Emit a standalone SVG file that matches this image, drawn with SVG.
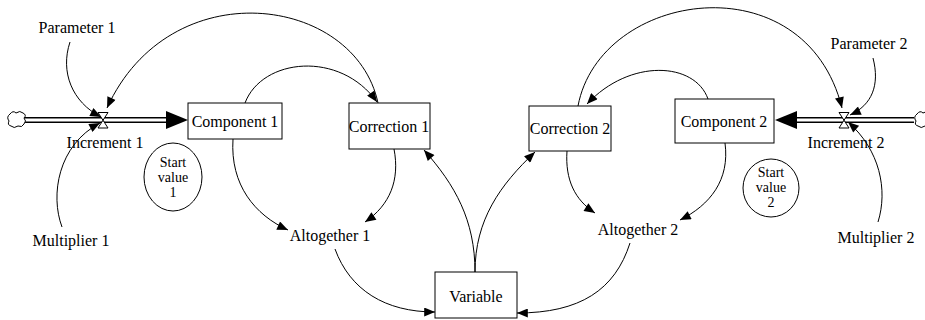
<svg xmlns="http://www.w3.org/2000/svg" width="925" height="320" viewBox="0 0 925 320">
<style>
text{font-family:"Liberation Serif","DejaVu Serif",serif;font-size:16px;fill:#000;text-anchor:middle;dominant-baseline:central}
text.sv{font-size:14px}
.box{fill:#fff;stroke:#000;stroke-width:1}
.link{fill:none;stroke:#000;stroke-width:1}
.pipeo{fill:none;stroke:#000;stroke-width:6}
.pipei{fill:none;stroke:#fff;stroke-width:3}
.valve{fill:#fff;stroke:#000;stroke-width:1}
.cloud{fill:#fff;stroke:#000;stroke-width:1}
</style>
<defs>
<marker id="ah" viewBox="0 0 12 10" refX="12" refY="5" markerWidth="13" markerHeight="9" orient="auto" markerUnits="userSpaceOnUse">
<path d="M0,0 L12,5 L0,10 Z" fill="#000"/>
</marker>
</defs>
<rect width="925" height="320" fill="#fff"/>

<g id="flows">
<path class="pipeo" d="M24 120 H168"/>
<path class="pipei" d="M22 120 H168"/>
<polygon points="166,111 188,120 166,129" fill="#000"/>
<path class="pipeo" d="M796 120 H914"/>
<path class="pipei" d="M796 120 H916"/>
<polygon points="797,111 775,120 797,129" fill="#000"/>
</g>

<g id="cloud1"><path class="cloud" d="M10 114 q3 -4 6 -1 q4 -3 7 0 q4 2 1 5 q3 3 0 6 q-2 4 -6 2 q-4 3 -7 0 q-4 -1 -2 -5 q-3 -4 1 -7 z"/></g>
<g id="cloud2"><path class="cloud" d="M917 114 q3 -4 6 -1 q4 -3 7 0 q4 2 1 5 q3 3 0 6 q-2 4 -6 2 q-4 3 -7 0 q-4 -1 -2 -5 q-3 -4 1 -7 z"/></g>

<g id="connectors">
<path class="link" marker-end="url(#ah)" d="M70 42 C60 72, 72 102, 101 117"/>
<path class="link" marker-end="url(#ah)" d="M62 227 C50 195, 58 145, 100 123"/>
<path class="link" marker-end="url(#ah)" d="M378 103 C355 -5, 170 -30, 107 108"/>
<path class="link" marker-end="url(#ah)" d="M245 103 C262 58, 340 50, 377 102"/>
<path class="link" marker-end="url(#ah)" d="M233 139 C230 185, 255 215, 288 230"/>
<path class="link" marker-end="url(#ah)" d="M394 149 C400 180, 390 205, 365 222"/>
<path class="link" marker-end="url(#ah)" d="M335 249 C350 290, 385 312, 435 312"/>
<path class="link" marker-end="url(#ah)" d="M475 272 C475 220, 455 185, 424 150"/>
<path class="link" marker-end="url(#ah)" d="M475 272 C475 220, 500 185, 535 152"/>
<path class="link" marker-end="url(#ah)" d="M567 151 C565 180, 575 200, 595 213"/>
<path class="link" marker-end="url(#ah)" d="M725 143 C730 180, 710 205, 680 220"/>
<path class="link" marker-end="url(#ah)" d="M630 243 C615 290, 580 313, 517 313"/>
<path class="link" marker-end="url(#ah)" d="M708 99 C695 62, 630 58, 587 104"/>
<path class="link" marker-end="url(#ah)" d="M578 106 C600 -10, 805 -40, 842 108"/>
<path class="link" marker-end="url(#ah)" d="M873 58 C880 85, 872 105, 850 115"/>
<path class="link" marker-end="url(#ah)" d="M878 222 C888 190, 880 150, 848 122"/>
</g>

<g id="increment1">
<path class="valve" d="M98 112.5 H108 L98 128 H108 Z"/>
<text x="105" y="142">Increment 1</text>
</g>
<g id="increment2">
<path class="valve" d="M839 112.5 H849 L839 128 H849 Z"/>
<text x="846" y="142">Increment 2</text>
</g>

<g id="parameter1"><text x="77" y="27">Parameter 1</text></g>
<g id="multiplier1"><text x="71" y="240">Multiplier 1</text></g>
<g id="parameter2"><text x="869" y="43">Parameter 2</text></g>
<g id="multiplier2"><text x="876" y="237">Multiplier 2</text></g>

<g id="component1">
<rect class="box" x="188" y="103" width="94" height="36"/>
<text x="235" y="121">Component 1</text>
</g>
<g id="correction1">
<rect class="box" x="349" y="103" width="81" height="46"/>
<text x="389" y="126">Correction 1</text>
</g>
<g id="correction2">
<rect class="box" x="529" y="106" width="82" height="45"/>
<text x="570" y="128">Correction 2</text>
</g>
<g id="component2">
<rect class="box" x="675" y="99" width="99" height="44"/>
<text x="724" y="121">Component 2</text>
</g>
<g id="variable">
<rect class="box" x="435" y="272" width="82" height="46"/>
<text x="476" y="296">Variable</text>
</g>

<g id="altogether1"><text x="330" y="235">Altogether 1</text></g>
<g id="altogether2"><text x="638" y="229">Altogether 2</text></g>

<g id="startvalue1">
<ellipse class="box" cx="173" cy="177" rx="29" ry="34"/>
<text class="sv" x="173" y="162">Start</text>
<text class="sv" x="173" y="177">value</text>
<text class="sv" x="173" y="192">1</text>
</g>
<g id="startvalue2">
<ellipse class="box" cx="771" cy="188" rx="28" ry="29"/>
<text class="sv" x="771" y="172">Start</text>
<text class="sv" x="771" y="187">value</text>
<text class="sv" x="771" y="202">2</text>
</g>
</svg>
